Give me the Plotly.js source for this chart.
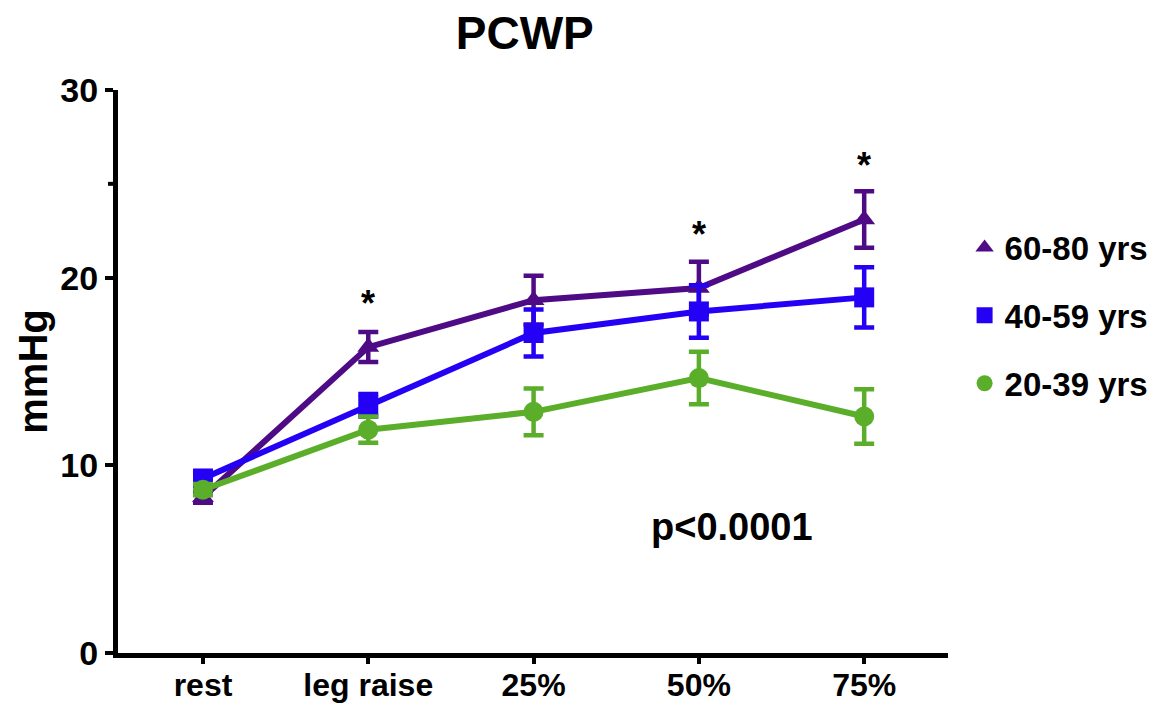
<!DOCTYPE html>
<html>
<head>
<meta charset="utf-8">
<script src="https://cdn.plot.ly/plotly-3.0.1.min.js"></script>
<style>html,body{margin:0;padding:0;background:#fff;}#chart{width:1161px;height:704px;}</style>
</head>
<body>
<div id="chart"></div>
<script>
const categories = ["rest", "leg raise", "25%", "50%", "75%"];
const seriesNames = ["60-80 yrs", "40-59 yrs", "20-39 yrs"];
const old_mean = [8.3, 16.3, 18.8, 19.45, 23.1];
const old_err  = [0.3, 0.8, 1.3, 1.4, 1.5];
const mid_mean = [9.3, 13.2, 17.05, 18.2, 18.95];
const mid_err  = [0.3, 0.6, 1.25, 1.4, 1.6];
const young_mean = [8.7, 11.9, 12.85, 14.65, 12.6];
const young_err  = [0.3, 0.7, 1.25, 1.4, 1.45];
const yTicks = [0, 10, 20, 30];

const colors = ["#4f0a86", "#2400f5", "#5aae2a"];
const symbols = ["triangle-up", "square", "circle"];
const means = [old_mean, mid_mean, young_mean];
const errs = [old_err, mid_err, young_err];
const FONT = "Liberation Sans, Arial, sans-serif";

const traces = [];
for (let i = 0; i < 3; i++) {
  traces.push({
    x: categories, y: means[i], type: "scatter", mode: "lines+markers",
    name: seriesNames[i], showlegend: false,
    line: {color: colors[i], width: 6},
    marker: {symbol: symbols[i], size: i === 0 ? 19 : 20, color: colors[i]},
    error_y: {type: "data", array: errs[i], visible: true, color: colors[i], thickness: 4.5, width: 10}
  });
}
for (let i = 0; i < 3; i++) {
  traces.push({
    x: [null], y: [null], type: "scatter", mode: "markers",
    name: seriesNames[i], legendgroup: "g" + i, showlegend: true,
    marker: {symbol: symbols[i], size: 20, color: colors[i]}
  });
}

const layout = {
  width: 1161, height: 704,
  margin: {l: 118, r: 213, t: 90, b: 51, autoexpand: false},
  paper_bgcolor: "#fff", plot_bgcolor: "#fff",
  font: {family: FONT, color: "#000"},
  title: {text: "<b>PCWP</b>", x: 0.452, xanchor: "center", y: 0.953, yanchor: "middle",
          font: {size: 46, family: FONT, color: "#000"}},
  xaxis: {
    type: "category", range: [-0.514, 4.507], showgrid: false, zeroline: false,
    showline: true, linecolor: "#000", linewidth: 5,
    ticks: "outside", ticklen: 6, tickwidth: 4, tickcolor: "#000",
    ticklabelstandoff: -6, automargin: false,
    tickfont: {size: 32, family: FONT, color: "#000", weight: "bold"}
  },
  yaxis: {
    range: [0, 30], tickvals: yTicks, showgrid: false, zeroline: false,
    showline: true, linecolor: "#000", linewidth: 5, automargin: false,
    ticks: "outside", ticklen: 8, tickwidth: 4, tickcolor: "#000",
    tickfont: {size: 34, family: FONT, color: "#000", weight: "bold"},
    title: {text: "<b>mmHg</b>", standoff: 2, font: {size: 40, family: FONT, color: "#000"}}
  },
  legend: {
    x: 1.02, xanchor: "left", y: 0.77, yanchor: "top",
    tracegroupgap: 22,
    font: {size: 33, family: FONT, color: "#000", weight: "bold"},
    bgcolor: "rgba(0,0,0,0)"
  },
  shapes: [
    {type: "line", xref: "paper", yref: "y", x0: -0.012, x1: 0, y0: 25, y1: 25, line: {color: "#000", width: 4}}
  ],
  annotations: [
    {x: "leg raise", y: 18.6, text: "<b>*</b>", showarrow: false, font: {size: 36, color: "#000"}},
    {x: "50%", y: 22.3, text: "<b>*</b>", showarrow: false, font: {size: 36, color: "#000"}},
    {x: "75%", y: 26.0, text: "<b>*</b>", showarrow: false, font: {size: 36, color: "#000"}},
    {x: 3.2, y: 6.7, xref: "x", yref: "y", text: "<b>p<0.0001</b>", showarrow: false, font: {size: 38, color: "#000"}}
  ]
};

Plotly.newPlot("chart", traces, layout, {displayModeBar: false, staticPlot: true});
</script>
</body>
</html>
